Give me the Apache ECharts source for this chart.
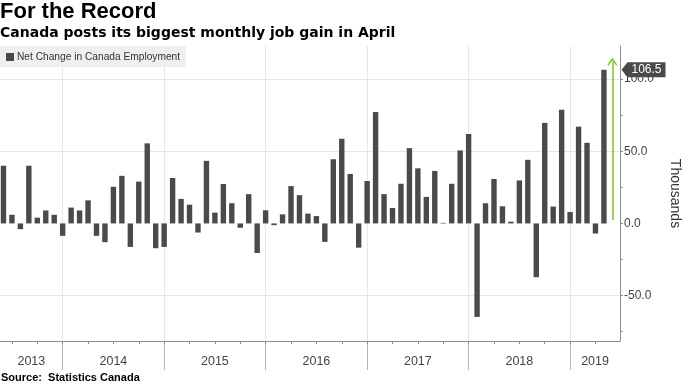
<!DOCTYPE html>
<html>
<head>
<meta charset="utf-8">
<script src="https://cdn.jsdelivr.net/npm/echarts@6/dist/echarts.min.js"></script>
<style>
html,body{margin:0;padding:0;background:#fff;}
#chart{width:683px;height:384px;}
</style>
</head>
<body>
<div id="chart"></div>
<script>
// ---- data ----
const startYear = 2013, startMonth = 5; // first bar: May 2013
const values = [
  40, 6, -4, 40, 4, 9, 6, -8.6,
  11, 9, 16, -8.6, -13, 25.4, 33, -16.3, 29, 55.5, -17.2, -16.3,
  31.5, 17, 13, -6.3, 43.4, 7.5, 27.3, 14, -3, 20.3, -20.5, 9.1,
  -1.2, 6.3, 25.9, 19.6, 6.8, 5.1, -12.8, 44.5, 58.7, 34.3, -16.8, 29.4,
  77.2, 20.3, 10.7, 27.5, 52.2, 38.2, 18.4, 36.4, 0.4, 27.5, 50.6, 62,
  -64.8, 14, 30.8, 11.9, 1.2, 29.8, 44.1, -37.3, 69.7, 11.7, 78.8, 7.9,
  67.1, 55.9, -7, 106.5
];
const monthNames = ['Jan','Feb','Mar','Apr','May','Jun','Jul','Aug','Sep','Oct','Nov','Dec'];
const months = values.map((_, i) => {
  const m = (startMonth - 1 + i) % 12;
  const y = startYear + Math.floor((startMonth - 1 + i) / 12);
  return monthNames[m] + ' ' + y;
});
const yearLabels = ['2013','2014','2015','2016','2017','2018','2019'];
const yLabelValues = [-50, 0, 50, 100];
const yTickValues = [-75, -50, -25, 0, 25, 50, 75, 100];
const yGridValues = [-50, 50, 100];
const lastValue = values[values.length - 1];

// ---- axis layout helpers (in month-index units) ----
const xMin = -0.41, xMax = 72.9;
const yMin = -81.5, yMax = 123;
const decIdx = [];
const quarterIdx = [];
months.forEach((m, i) => {
  if (m.startsWith('Dec')) decIdx.push(i);
  if (/^(Mar|Jun|Sep|Dec)/.test(m)) quarterIdx.push(i);
});
const bounds = [xMin].concat(decIdx, [xMax]);
const yearCenters = [];
for (let i = 0; i < bounds.length - 1; i++) yearCenters.push((bounds[i] + bounds[i + 1]) / 2);

const FONT = 'Liberation Sans';

const chart = echarts.init(document.getElementById('chart'), null, {renderer: 'canvas'});
chart.setOption({
  animation: false,
  backgroundColor: '#ffffff',
  title: [
    {text: 'For the Record', left: 0, top: 1, padding: 0,
     textStyle: {fontFamily: FONT, fontSize: 22, fontWeight: 'bold', color: '#000'}},
    {text: 'Canada posts its biggest monthly job gain in April', left: 0, top: 26, padding: 0,
     textStyle: {fontFamily: 'DejaVu Sans', fontSize: 14, fontWeight: 'bold', color: '#000'}},
    {text: 'Source:  Statistics Canada', left: 1, top: 372, padding: 0,
     textStyle: {fontFamily: FONT, fontSize: 11, fontWeight: 'bold', color: '#000'}}
  ],
  legend: {
    left: 0, top: 46,
    padding: [6, 6, 5, 6],
    backgroundColor: '#efefef',
    itemWidth: 8, itemHeight: 8, itemGap: 4,
    icon: 'rect',
    textStyle: {fontFamily: FONT, fontSize: 10.2, color: '#333', padding: [0, 0, 0, -2]},
    data: ['Net Change in Canada Employment']
  },
  grid: {left: 0, right: 63, top: 46, bottom: 43, containLabel: false, outerBoundsMode: 'none'},
  xAxis: [
    {
      type: 'value', min: xMin, max: xMax, position: 'bottom',
      axisLine: {show: true, onZero: false, lineStyle: {color: '#8c8c8c', width: 1}},
      axisTick: {show: true, customValues: decIdx, length: 29, lineStyle: {color: '#b5b5b5'}},
      splitLine: {show: true, lineStyle: {color: '#e6e6e6', width: 1}},
      axisLabel: {
        show: true, customValues: yearCenters, margin: 14,
        fontFamily: FONT, fontSize: 12.5, color: '#444',
        formatter: function (v) {
          let best = 0;
          yearCenters.forEach((c, i) => { if (Math.abs(c - v) < Math.abs(yearCenters[best] - v)) best = i; });
          return yearLabels[best];
        }
      }
    },
    {
      type: 'value', min: xMin, max: xMax, position: 'bottom',
      axisLine: {show: false, onZero: false},
      axisTick: {show: true, customValues: quarterIdx, length: 3, lineStyle: {color: '#8c8c8c'}},
      splitLine: {show: false},
      axisLabel: {show: false}
    }
  ],
  yAxis: [
    {
      type: 'value', min: yMin, max: yMax, position: 'right',
      name: 'Thousands', nameLocation: 'middle', nameRotate: -90, nameGap: 48,
      nameTextStyle: {fontFamily: FONT, fontSize: 14, color: '#333'},
      axisLine: {show: true, onZero: false, lineStyle: {color: '#8c8c8c'}},
      axisTick: {show: true, customValues: yTickValues, length: 3, lineStyle: {color: '#8c8c8c'}},
      splitLine: {show: false},
      axisLabel: {show: true, customValues: yLabelValues, margin: 4,
        fontFamily: FONT, fontSize: 12, color: '#444',
        formatter: v => v.toFixed(1)}
    },
    {
      type: 'value', min: yMin, max: yMax, position: 'left',
      axisLine: {show: false, onZero: false},
      axisTick: {show: false, customValues: yGridValues},
      axisLabel: {show: false},
      splitLine: {show: true, lineStyle: {color: '#e6e6e6', width: 1}}
    }
  ],
  series: [
    {
      name: 'Net Change in Canada Employment',
      type: 'bar',
      xAxisIndex: 0, yAxisIndex: 0,
      barWidth: 5.4,
      itemStyle: {color: '#4a4a4a'},
      data: values.map((v, i) => [i, v]),
      markPoint: {
        silent: true,
        symbol: 'path://M0,7.5 L6,0 L44,0 L44,15 L6,15 Z',
        symbolSize: [44, 15],
        symbolOffset: [23.5, 0],
        itemStyle: {color: '#4a4a4a'},
        label: {show: true, color: '#fff', fontFamily: FONT, fontSize: 12, offset: [3, 0],
          formatter: p => String(p.value)},
        data: [{coord: [xMax, lastValue], value: lastValue}]
      },
      markLine: {
        silent: true,
        symbol: ['none', 'path://M0,0 L5,6 L4,7 L0,2.2 L-4,7 L-5,6 Z'],
        symbolSize: [10, 8],
        label: {show: false},
        lineStyle: {color: '#7dc81e', width: 1.5, type: 'solid'},
        emphasis: {disabled: true},
        data: [[{coord: [values.length, 2.3]}, {coord: [values.length, 112]}]]
      }
    }
  ]
});
</script>
</body>
</html>
